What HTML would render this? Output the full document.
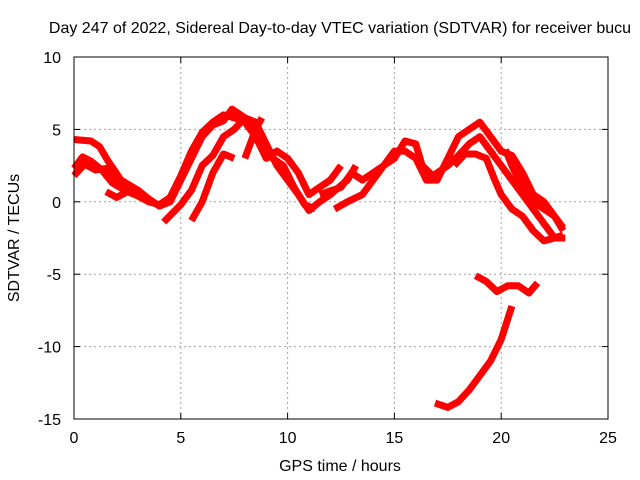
<!DOCTYPE html>
<html><head><meta charset="utf-8"><style>
body{margin:0;background:#fff}
svg{display:block;font-family:"Liberation Sans",sans-serif;font-size:16px}
</style></head><body>
<svg id="chart" width="640" height="480" viewBox="0 0 640 480">
<rect width="640" height="480" fill="#fff"/>
<text x="340" y="33" text-anchor="middle">Day 247 of 2022, Sidereal Day-to-day VTEC variation (SDTVAR) for receiver bucu</text>
<g id="grid"></g><g id="series"></g><g id="axes"></g>
<text x="340" y="471" text-anchor="middle">GPS time / hours</text>
<text transform="translate(19,238) rotate(-90)" text-anchor="middle">SDTVAR / TECUs</text>
</svg>
<script>
const xTicks=[0,5,10,15,20,25];
const yTicks=[10,5,0,-5,-10,-15];
const s1=[[0,4.3],[0.8,4.2],[1.2,3.8],[1.6,2.8],[2.2,1.5],[3,0.8],[3.5,0.2],[4,-0.3],[4.5,0],[5,1.5],[5.5,3],[6,4.5],[6.5,5.3],[7,5.6],[7.4,6.4],[7.8,6],[8.3,5.5],[8.8,3.8],[9.3,3],[9.8,2.5],[10.3,1],[10.8,-0.2],[11.3,-0.5]];
const s2=[[0,2.3],[0.4,3.1],[0.8,2.8],[1.3,2.2],[1.8,1.3],[2.5,0.7],[3,0.4],[3.5,0],[4,-0.2],[4.5,0.3],[5,1.8],[5.5,3.5],[6,4.8],[6.5,5.5],[7,6],[7.5,5.8],[8,5.5],[8.5,4.5],[9,3],[9.5,3.5],[10,3],[10.5,2],[11,0.5],[11.5,1],[12,1.5],[12.5,2.5]];
const s3=[[0,1.8],[0.5,2.6],[1,2.2],[1.5,2.3],[2,1.3],[2.5,0.8]];
const s3b=[[1.5,0.7],[2,0.3],[2.5,0.7]];
const s4=[[4.2,-1.4],[4.6,-0.8],[5,-0.2],[5.5,0.8],[6,2.5],[6.5,3.2],[7,4.5],[7.5,5],[8,5.8],[8.5,5.5],[9,4],[9.5,2.5],[10,1.5],[10.5,0.5],[11,-0.6],[11.5,0],[12,0.5],[12.8,1.5],[13.2,2.5]];
const s4b=[[5.5,-1.3],[6,0],[6.5,2],[7,3.3],[7.5,3]];
const s4c=[[8,3],[8.5,5],[8.8,5.8]];
const s5=[[11.5,0.5],[12.5,1],[13,2],[13.5,1.5],[14,2],[14.5,2.5],[15,3],[15.5,4.2],[16,4],[16.3,2.5],[16.8,1.8],[17.5,2.5],[18,3.2],[18.5,4],[19,4.5],[19.5,3.5],[20,2.5],[20.5,1.5],[21,0.5],[21.5,-0.5],[22,-1.5],[22.5,-2.5],[23,-2.5]];
const s6=[[12.2,-0.5],[12.8,0],[13.5,0.5],[14,1.5],[14.5,2.5],[15,3.5],[15.5,3.5],[16,3],[16.5,1.5],[17,1.5],[17.5,3],[18,4.5],[18.5,5],[19,5.5],[19.5,4.5],[20,3.5],[20.5,3.2],[21,2],[21.5,0.5],[22,0],[22.5,-1],[22.9,-2]];
const s7=[[17.8,2.5],[18.3,3.3],[18.8,3.3],[19.3,3],[19.7,1.5],[20,0.5],[20.5,-0.5],[21,-1],[21.5,-2],[22,-2.7],[22.5,-2.5],[22.9,-2.3]];
const s8=[[20.2,3.6],[20.5,2.5],[21,1],[21.5,0],[22,-0.5],[22.5,-1],[22.9,-1.8]];
const s9=[[18.8,-5.1],[19.3,-5.5],[19.8,-6.2],[20.3,-5.8],[20.8,-5.8],[21.3,-6.3],[21.7,-5.6]];
const s10=[[16.9,-13.9],[17.5,-14.2],[18,-13.8],[18.5,-13],[19,-12],[19.5,-11],[20,-9.5],[20.5,-7.2]];
const series=[s1,s2,s3,s3b,s4,s4b,s4c,s5,s6,s7,s8,s9,s10];
const X0=74,X1=608,Y0=419,Y1=57;
const xs=v=>X0+(v-0)/25*(X1-X0);
const ys=v=>Y0-(v+15)/25*(Y0-Y1);
const NS="http://www.w3.org/2000/svg";
function mk(tag,attrs,parent){const e=document.createElementNS(NS,tag);for(const k in attrs)e.setAttribute(k,attrs[k]);parent.appendChild(e);return e;}
const grid=document.getElementById('grid'),axes=document.getElementById('axes'),sg=document.getElementById('series');
xTicks.forEach(t=>{
  if(t>0&&t<25){const l=mk('line',{x1:xs(t),x2:xs(t),y1:Y1,y2:Y0,stroke:'#a0a0a0','stroke-dasharray':'2,3'},grid);
  
  }
  mk('line',{x1:xs(t),x2:xs(t),y1:Y0,y2:Y0-6,stroke:'#000'},axes);
  mk('line',{x1:xs(t),x2:xs(t),y1:Y1,y2:Y1+6,stroke:'#000'},axes);
  const tx=mk('text',{x:xs(t),y:Y0+24,'text-anchor':'middle'},axes);tx.textContent=t;
  
  
});
yTicks.forEach(t=>{
  if(t>-15&&t<10){const l=mk('line',{x1:X0,x2:X1,y1:ys(t),y2:ys(t),stroke:'#a0a0a0','stroke-dasharray':'2,3'},grid);
  
  }
  mk('line',{x1:X0,x2:X0+6,y1:ys(t),y2:ys(t),stroke:'#000'},axes);
  mk('line',{x1:X1,x2:X1-6,y1:ys(t),y2:ys(t),stroke:'#000'},axes);
  const tx=mk('text',{x:X0-13,y:ys(t)+6,'text-anchor':'end'},axes);tx.textContent=t;
  
  
});
const fr=mk('rect',{x:X0,y:Y1,width:X1-X0,height:Y0-Y1,fill:'none',stroke:'#000'},axes);


series.forEach(s=>{
  const p=mk('polyline',{points:s.map(d=>xs(d[0])+','+ys(d[1])).join(' '),fill:'none',stroke:'#ff0000','stroke-width':7,'stroke-linejoin':'round','stroke-linecap':'butt'},sg);
  
  
});
</script>
</body></html>
